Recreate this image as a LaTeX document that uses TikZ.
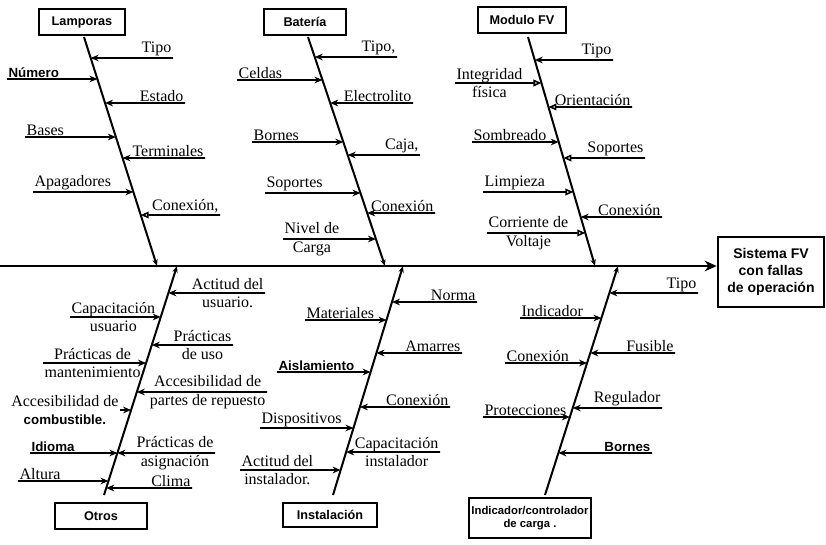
\documentclass[tikz,border=0pt]{standalone}
\usepackage{fontspec}
\setmainfont{Liberation Serif}
\setsansfont{Liberation Sans}
\usetikzlibrary{arrows.meta, calc}

\newcommand{\marked}[1]{{\sffamily\bfseries\fontsize{10}{11}\selectfont #1}}

\begin{document}
\begin{tikzpicture}[
    x=0.75pt, y=-0.75pt,
    font=\fontsize{12}{14}\selectfont,
    causebox/.style={draw, line width=1.5pt, inner sep=2pt, minimum height=20pt,
                     font=\sffamily\bfseries\fontsize{9.5}{10}\selectfont},
    effectbox/.style={draw, line width=1.5pt, align=center, minimum width=80pt,
                      minimum height=53pt, font=\sffamily\bfseries\fontsize{10.5}{12.5}\selectfont},
    spine/.style={line width=1.5pt, -{Stealth[length=9pt,width=8pt]}},
    bone/.style={line width=1.5pt, -{Stealth[length=5pt,width=4pt]}},
    rib/.style={line width=1.2pt, -{Stealth[length=6pt,width=5pt]}},
    ribopen/.style={line width=1.2pt, -{Triangle[open,length=6pt,width=5pt]}},
    lblR/.style={anchor=south east, inner sep=1pt},
    lblL/.style={anchor=south west, inner sep=1pt},
    dblR/.style={anchor=east, align=center, inner sep=1pt},
    dblL/.style={anchor=west, align=center, inner sep=1pt},
]
    \useasboundingbox (0,0) rectangle (826,544);

    % causes and effect
    \node[causebox, minimum width=65pt] (lamp) at (82,22)  {Lamporas};
    \node[causebox, minimum width=62pt] (bat)  at (305,22) {Batería};
    \node[causebox, minimum width=66pt] (mod)  at (522,20) {Modulo FV};
    \node[causebox, minimum width=69pt] (otr)  at (101,516) {Otros};
    \node[causebox, minimum width=70pt, minimum height=18pt] (ins) at (330,515) {Instalación};
    \node[causebox, minimum width=86pt, minimum height=30pt, align=center,
          font=\sffamily\bfseries\fontsize{8.5}{10}\selectfont] (ind) at (530,518)
          {Indicador/controlador\\de carga .};
    \node[effectbox] (effect) at (771,272) {Sistema FV\\con fallas\\de operación};

    % spine
    \coordinate (tail) at (0,266);
    \draw[spine] (tail) -- (tail -| effect.west);

    % bones
    \coordinate (lampT) at (84,37);   \coordinate (lampS) at (157,266);
    \coordinate (batT)  at (308,37);  \coordinate (batS)  at (385,266);
    \coordinate (modT)  at (528,37);  \coordinate (modS)  at (595,266);
    \coordinate (otrS)  at (177,266); \coordinate (otrB)  at (104,495);
    \coordinate (insS)  at (403,266); \coordinate (insB)  at (333,495);
    \coordinate (indS)  at (618,266); \coordinate (indB)  at (545,495);

    \draw[bone] (lampT) -- (lampS);
    \draw[bone] (batT)  -- (batS);
    \draw[bone] (modT)  -- (modS);
    \draw[bone] (otrB)  -- (otrS);
    \draw[bone] (insB)  -- (insS);
    \draw[bone] (indB)  -- (indS);

    % Lamporas
    \foreach \y/\x/\tip/\lbl/\txt [evaluate=\y as \t using (\y-37)/229] in {
        58/173/rib/lblR/Tipo, 103/185/rib/lblR/Estado,
        158/205/rib/lblR/Terminales, 215/220/ribopen/lblR/{Conexión,},
        79/7/rib/lblL/\marked{Número}, 137/25/rib/lblL/Bases,
        192/33/rib/lblL/Apagadores}{
        \coordinate (free) at (\x,\y);
        \coordinate (hit) at ($(lampT)!\t!(lampS)$);
        \draw[\tip] (free) -- (hit);
        \node[\lbl] at (free) {\txt};
    }

    % Bateria
    \foreach \y/\x/\tip/\lbl/\txt [evaluate=\y as \t using (\y-37)/229] in {
        57/397/rib/lblR/{Tipo,}, 103/413/rib/lblR/Electrolito,
        155/420/rib/lblR/{Caja,}, 213/435/rib/lblR/Conexión,
        80/237/rib/lblL/Celdas, 142/252/rib/lblL/Bornes,
        193/265/rib/lblL/Soportes, 239/283/rib/dblL/Nivel de\\Carga}{
        \coordinate (free) at (\x,\y);
        \coordinate (hit) at ($(batT)!\t!(batS)$);
        \draw[\tip] (free) -- (hit);
        \node[\lbl] at (free) {\txt};
    }

    % Modulo FV
    \foreach \y/\x/\tip/\lbl/\txt [evaluate=\y as \t using (\y-37)/229] in {
        60/613/rib/lblR/Tipo, 107/632/ribopen/lblR/Orientación,
        158/645/ribopen/lblR/Soportes, 217/662/rib/lblR/Conexión,
        83/455/ribopen/dblL/Integridad\\física, 142/472/rib/lblL/Sombreado,
        192/483/ribopen/lblL/Limpieza, 233/487/ribopen/dblL/Corriente de\\Voltaje}{
        \coordinate (free) at (\x,\y);
        \coordinate (hit) at ($(modT)!\t!(modS)$);
        \draw[\tip] (free) -- (hit);
        \node[\lbl] at (free) {\txt};
    }

    % Otros
    \foreach \y/\x/\tip/\lbl/\txt [evaluate=\y as \t using (\y-266)/229] in {
        293/265/rib/dblR/Actitud del\\usuario., 345/233/rib/dblR/Prácticas\\de uso,
        392/267/rib/dblR/Accesibilidad de\\partes de repuesto,
        453/215/rib/dblR/Prácticas de\\asignación, 488/192/rib/lblR/Clima,
        317/70/rib/dblL/Capacitación\\usuario, 363/43/rib/dblL/Prácticas de\\mantenimiento,
        453/30/rib/lblL/\marked{Idioma}, 481/18/rib/lblL/Altura}{
        \coordinate (free) at (\x,\y);
        \coordinate (hit) at ($(otrS)!\t!(otrB)$);
        \draw[\tip] (free) -- (hit);
        \node[\lbl] at (free) {\txt};
    }
    \coordinate (free) at (120,410);
    \coordinate (hit) at ($(otrS)!0.6288!(otrB)$);
    \draw[rib] (free) -- (hit);
    \node[dblR] at (free) {Accesibilidad de\\\marked{combustible.}};

    % Instalacion
    \foreach \y/\x/\tip/\lbl/\txt [evaluate=\y as \t using (\y-266)/229] in {
        302/477/rib/lblR/Norma, 353/462/rib/lblR/Amarres,
        407/450/rib/lblR/Conexión, 452/440/rib/dblR/Capacitación\\instalador,
        320/305/rib/lblL/Materiales, 372/277/rib/lblL/\marked{Aislamiento},
        428/260/rib/lblL/Dispositivos, 470/240/rib/dblL/Actitud del\\instalador.}{
        \coordinate (free) at (\x,\y);
        \coordinate (hit) at ($(insS)!\t!(insB)$);
        \draw[\tip] (free) -- (hit);
        \node[\lbl] at (free) {\txt};
    }

    % Indicador/controlador
    \foreach \y/\x/\tip/\lbl/\txt [evaluate=\y as \t using (\y-266)/229] in {
        293/698/rib/lblR/Tipo, 353/675/rib/lblR/Fusible,
        408/662/rib/lblR/Regulador, 453/652/rib/lblR/\marked{Bornes},
        318/520/rib/lblL/Indicador, 363/505/rib/lblL/Conexión,
        417/483/rib/lblL/Protecciones}{
        \coordinate (free) at (\x,\y);
        \coordinate (hit) at ($(indS)!\t!(indB)$);
        \draw[\tip] (free) -- (hit);
        \node[\lbl] at (free) {\txt};
    }
\end{tikzpicture}
\end{document}
